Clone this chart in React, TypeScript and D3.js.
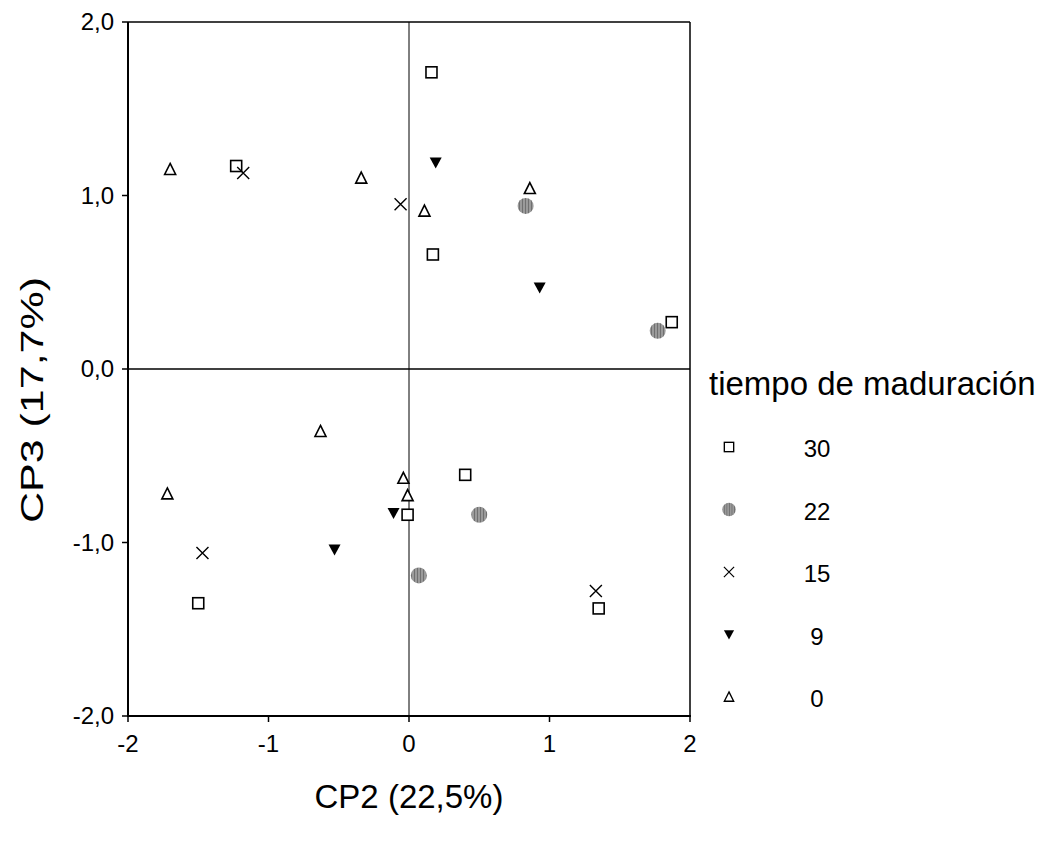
import React from "react";
import * as d3 from "d3";

const groups = ["30", "22", "15", "9", "0"];
const g30x = [0.16, -1.23, 0.17, 1.87, 0.40, -0.01, -1.50, 1.35];
const g30y = [1.71, 1.17, 0.66, 0.27, -0.61, -0.84, -1.35, -1.38];
const g22x = [0.83, 1.77, 0.50, 0.07];
const g22y = [0.94, 0.22, -0.84, -1.19];
const g15x = [-1.18, -0.06, -1.47, 1.33];
const g15y = [1.13, 0.95, -1.06, -1.28];
const g9x = [0.19, 0.93, -0.11, -0.53];
const g9y = [1.19, 0.47, -0.83, -1.04];
const g0x = [-1.70, -0.34, 0.86, 0.11, -0.63, -1.72, -0.04, -0.01];
const g0y = [1.15, 1.10, 1.04, 0.91, -0.36, -0.72, -0.63, -0.73];
const xTicks = [-2, -1, 0, 1, 2];
const yTicks = [2, 1, 0, -1, -2];

const series = [
  { key: "30", xs: g30x, ys: g30y },
  { key: "22", xs: g22x, ys: g22y },
  { key: "15", xs: g15x, ys: g15y },
  { key: "9", xs: g9x, ys: g9y },
  { key: "0", xs: g0x, ys: g0y },
];

function Marker({ kind, cx, cy }: { kind: string; cx: number; cy: number }) {
  const s = 5.5;
  if (kind === "30")
    return <rect x={cx - s} y={cy - s} width={2 * s} height={2 * s} fill="white" stroke="black" strokeWidth={1.6} />;
  if (kind === "22")
    return <circle cx={cx} cy={cy} r={8} fill="url(#stripes)" />;
  if (kind === "15")
    return (
      <path d={`M${cx - 6},${cy - 6}L${cx + 6},${cy + 6}M${cx - 6},${cy + 6}L${cx + 6},${cy - 6}`} stroke="black" strokeWidth={1.4} fill="none" />
    );
  if (kind === "9")
    return <path d={`M${cx - 6},${cy - 5}L${cx + 6},${cy - 5}L${cx},${cy + 6}Z`} fill="black" />;
  return <path d={`M${cx},${cy - 6}L${cx + 5.5},${cy + 5}L${cx - 5.5},${cy + 5}Z`} fill="white" stroke="black" strokeWidth={1.6} />;
}

export default function App() {
  const W = 1043, H = 841;
  const x = d3.scaleLinear().domain([-2, 2]).range([128, 690]);
  const y = d3.scaleLinear().domain([-2, 2]).range([716, 22]);
  const font = "Arial, 'Liberation Sans', sans-serif";
  const fmtY = (v: number) => d3.format(".1f")(v).replace(".", ",").replace("−", "-");
  const legendY = d3.scalePoint().domain(groups).range([447, 697]);
  return (
    <svg width={W} height={H} style={{ position: "absolute", left: 0, top: 0, background: "white" }}>
      <defs>
        <pattern id="stripes" width="3" height="3" patternUnits="userSpaceOnUse">
          <rect width="3" height="3" fill="#9a9a9a" />
          <rect width="1" height="3" fill="#707070" />
        </pattern>
      </defs>
      <rect width={W} height={H} fill="white" />
      {/* reference lines */}
      <line x1={x(0)} x2={x(0)} y1={y(2)} y2={y(-2)} stroke="black" strokeWidth={1} />
      <line x1={x(-2)} x2={x(2)} y1={y(0)} y2={y(0)} stroke="black" strokeWidth={1.5} />
      {/* frame */}
      <line x1={x(-2)} x2={x(2)} y1={y(2)} y2={y(2)} stroke="black" strokeWidth={1.5} />
      <line x1={x(2)} x2={x(2)} y1={y(2)} y2={y(-2)} stroke="black" strokeWidth={1.5} />
      <line x1={x(-2)} x2={x(-2)} y1={y(2)} y2={y(-2) + 1} stroke="black" strokeWidth={2} />
      <line x1={x(-2) - 1} x2={x(2) + 1} y1={y(-2)} y2={y(-2)} stroke="black" strokeWidth={2} />
      {/* ticks */}
      {yTicks.map((t) => (
        <g key={"y" + t}>
          <line x1={x(-2) - 6} x2={x(-2)} y1={y(t)} y2={y(t)} stroke="black" strokeWidth={1.5} />
          <text x={x(-2) - 14} y={y(t)} dy="0.35em" textAnchor="end" fontFamily={font} fontSize={24}>
            {fmtY(t)}
          </text>
        </g>
      ))}
      {xTicks.map((t) => (
        <g key={"x" + t}>
          <line x1={x(t)} x2={x(t)} y1={y(-2)} y2={y(-2) + 6} stroke="black" strokeWidth={1.5} />
          <text x={x(t)} y={y(-2) + 36} textAnchor="middle" fontFamily={font} fontSize={24}>
            {String(t)}
          </text>
        </g>
      ))}
      {/* axis titles */}
      <text x={409} y={808} textAnchor="middle" fontFamily={font} fontSize={33}>
        CP2 (22,5%)
      </text>
      <text
        transform={`translate(43,400) rotate(-90)`}
        textAnchor="middle"
        fontFamily={font}
        fontSize={31}
        textLength={246}
        lengthAdjust="spacingAndGlyphs"
      >
        CP3 (17,7%)
      </text>
      {/* points */}
      {series.map((s) =>
        s.xs.map((v, i) => <Marker key={s.key + i} kind={s.key} cx={x(v)} cy={y(s.ys[i])} />)
      )}
      {/* legend */}
      <text x={709} y={395} fontFamily={font} fontSize={33}>
        tiempo de maduración
      </text>
      {groups.map((g) => (
        <g key={"l" + g}>
          <g transform={`translate(729,${legendY(g)}) scale(0.85) translate(-729,${-(legendY(g) as number)})`}>
            <Marker kind={g} cx={729} cy={legendY(g) as number} />
          </g>
          <text x={817} y={(legendY(g) as number) + 10} textAnchor="middle" fontFamily={font} fontSize={24}>
            {g}
          </text>
        </g>
      ))}
    </svg>
  );
}
